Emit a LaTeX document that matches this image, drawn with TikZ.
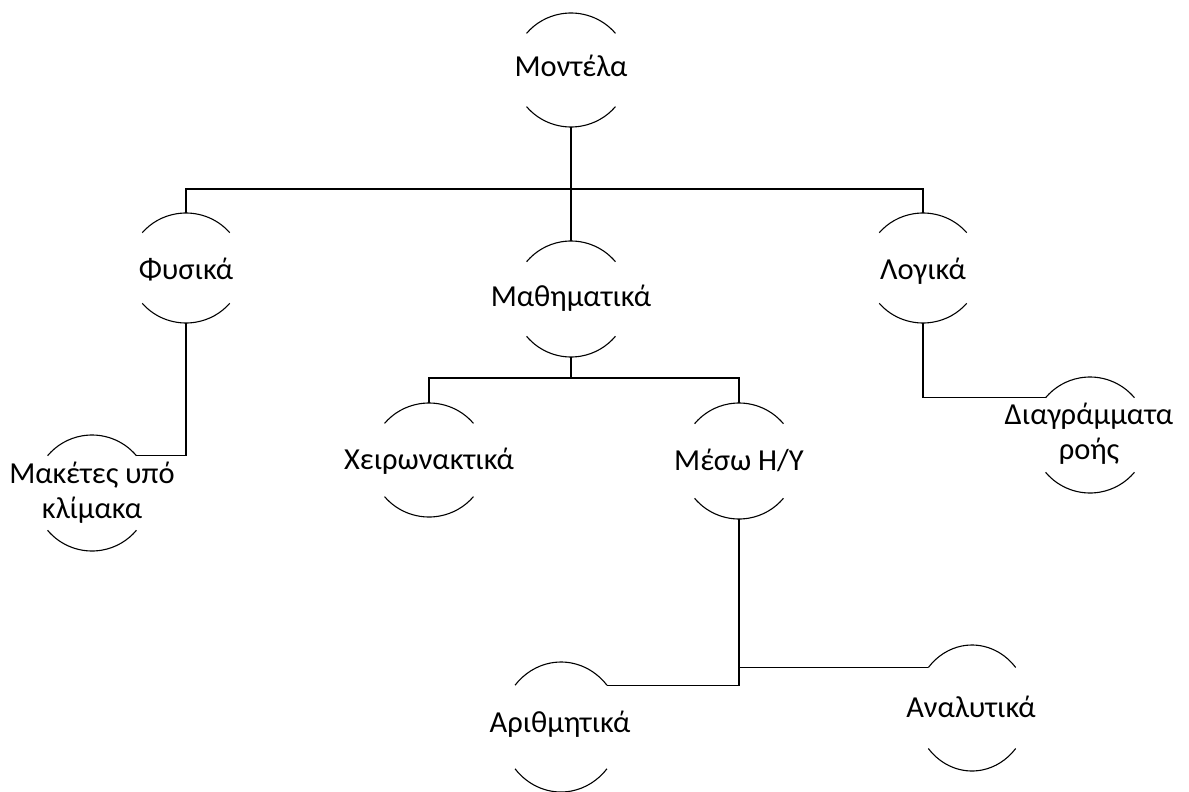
\documentclass[tikz,border=0pt]{standalone}
\usepackage{fontspec}
\setmainfont{Carlito}
\usetikzlibrary{calc}

% A bubble: only the upper and lower arcs of an ellipse are drawn.
% #1 name, #2 centre, #3 x radius, #4 y radius
\newcommand\bubble[4]{%
  \coordinate (#1) at #2;
  \coordinate (#1-n) at ($(#1)+(0,#4)$);
  \coordinate (#1-s) at ($(#1)+(0,-#4)$);
  \coordinate (#1-ne) at ($(#1)+(40:#3 and #4)$);
  \coordinate (#1-nw) at ($(#1)+(140:#3 and #4)$);
  \draw[arcline] (#1-ne) arc[start angle=40,end angle=140,x radius=#3,y radius=#4];
  \draw[arcline] ($(#1)+(220:#3 and #4)$) arc[start angle=220,end angle=320,x radius=#3,y radius=#4];
}

\begin{document}
\begin{tikzpicture}[x=1pt,y=-1pt,
  arcline/.style={line width=1.1pt},
  link/.style={line width=1.1pt},
  lbl/.style={anchor=base,inner sep=0pt,align=center,font=\fontsize{30.5}{35}\selectfont}]
\useasboundingbox (0,0) rectangle (1189,792);

% bubbles
\bubble{mod}{(571,70)}{58pt}{57pt}
\bubble{fys}{(186,268)}{57pt}{55pt}
\bubble{mat}{(571,299)}{58pt}{58pt}
\bubble{log}{(923,268)}{57pt}{55pt}
\bubble{mak}{(92,493)}{58pt}{58pt}
\bubble{xei}{(429,460)}{58pt}{57pt}
\bubble{mes}{(739,461)}{58pt}{58pt}
\bubble{dia}{(1090,435)}{58pt}{58pt}
\bubble{ari}{(561,727)}{60pt}{65pt}
\bubble{ana}{(972,708)}{57pt}{63pt}

% labels (base anchor sits on the last line)
\node[lbl] (mod-l) at (571,77) {Μοντέλα};
\node[lbl] (fys-l) at (186,279) {Φυσικά};
\node[lbl] (mat-l) at (571,306) {Μαθηματικά};
\node[lbl] (log-l) at (923,279) {Λογικά};
\node[lbl] (mak-l) at (92,518) {Μακέτες υπό\\κλίμακα};
\node[lbl] (xei-l) at (429,469) {Χειρωνακτικά};
\node[lbl] (mes-l) at (739,470) {Μέσω Η/Υ};
\node[lbl] (dia-l) at (1089,459) {Διαγράμματα\\ροής};
\node[lbl] (ari-l) at (560,732) {Αριθμητικά};
\node[lbl] (ana-l) at (971,717) {Αναλυτικά};

% connectors
\coordinate (bus1) at (571,189);
\coordinate (bus2) at (571,378);
\draw[link] (mod-s) -- (mat-n);
\draw[link] (fys-n) |- (bus1) -| (log-n);
\draw[link] (fys-s) |- (mak-ne);
\draw[link] (log-s) |- (dia-nw);
\draw[link] (mat-s) -- (bus2);
\draw[link] (xei-n) |- (bus2) -| (mes-n);
\draw[link] (mes-s) |- (ari-ne);
\draw[link] (mes-s) |- (ana-nw);
\end{tikzpicture}
\end{document}
